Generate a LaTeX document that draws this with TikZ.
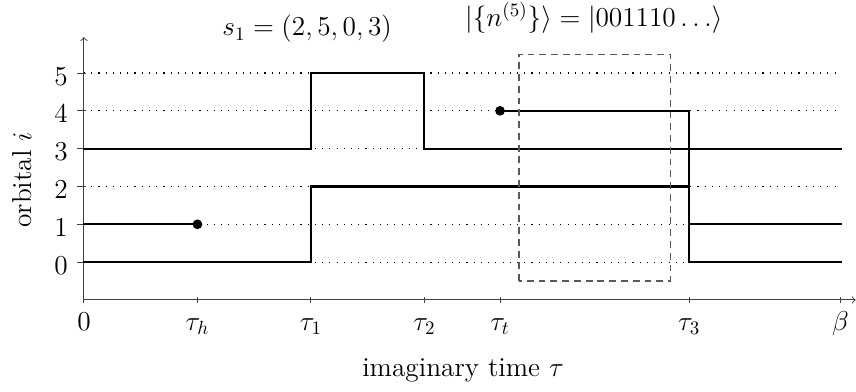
\documentclass[tikz,border=0pt]{standalone}
\usepackage{amsmath}
\begin{document}
\begin{tikzpicture}[x=0.7cm,y=0.7cm,
  font=\fontsize{14.4}{17}\selectfont,
  world/.style={line width=1.1pt, line cap=rect},
  gridline/.style={dash pattern=on 0.6pt off 3.2pt, line width=0.6pt},
  ax/.style={line width=0.5pt, black!75, ->},
  tk/.style={line width=0.5pt, black!75},
  dotn/.style={circle, fill=black, inner sep=0pt, minimum size=0.18cm},
  box/.style={dashed, dash pattern=on 3.6pt off 2.6pt, line width=0.6pt, black!65},
  lab/.style={inner sep=0pt}]
\useasboundingbox (-2.22,-2.43) rectangle (20.41,7.93);
% axes
\coordinate (O) at (0,0);
\coordinate (xend) at (20.4,0);
\coordinate (yend) at (0,6.95);
\draw[ax] (O) -- (xend);
\draw[ax] (O) -- (yend);
% orbital levels
\foreach \k in {0,...,5}{
  \coordinate (L\k) at (0,\k+1);
  \coordinate (R\k) at (20,\k+1);
  \draw[gridline] (L\k) -- (R\k);
  \draw[tk] (-0.18,\k+1) -- (0.05,\k+1);
  \node[lab, anchor=base east] (yl\k) at (-0.42,\k+0.68) {$\k$};
}
% time ticks
\foreach \x/\t/\n in {0/0/t0, 3/\tau_h/th, 6/\tau_1/t1, 9/\tau_2/t2, 11/\tau_t/tt, 16/\tau_3/t3, 20/\beta/tb}{
  \draw[tk] (\x,-0.09) -- (\x,0.09);
  \node[lab, anchor=base] (\n) at (\x,-0.8) {$\t$};
}
% world lines
\draw[world] (0,4) -- (6,4) -- (6,6) -- (9,6) -- (9,4) -- (20,4);
\draw[world] (0,1) -- (6,1) -- (6,3) -- (16,3);
\draw[world] (0,2) -- (3,2);
\draw[world] (11,5) -- (16,5) -- (16,1) -- (20,1);
\draw[world] (16,2) -- (20,2);
\node[dotn] (hole) at (3,2) {};
\node[dotn] (tail) at (11,5) {};
% slice box
\draw[box] (11.5,0.5) rectangle (15.5,6.5);
% labels
\node[rotate=90] (ylab) at (-1.64,3.17) {orbital $i$};
\node (xlab) at (10.02,-1.85) {imaginary time $\tau$};
\node[lab, anchor=base] (s1) at (5.9,6.98) {$s_1 = (2,5,0,3)$};
\node[lab, anchor=base] (ket) at (13.48,7.22) {$\lvert\{n^{(5)}\}\rangle = \lvert 001110\ldots\rangle$};
\end{tikzpicture}
\end{document}
